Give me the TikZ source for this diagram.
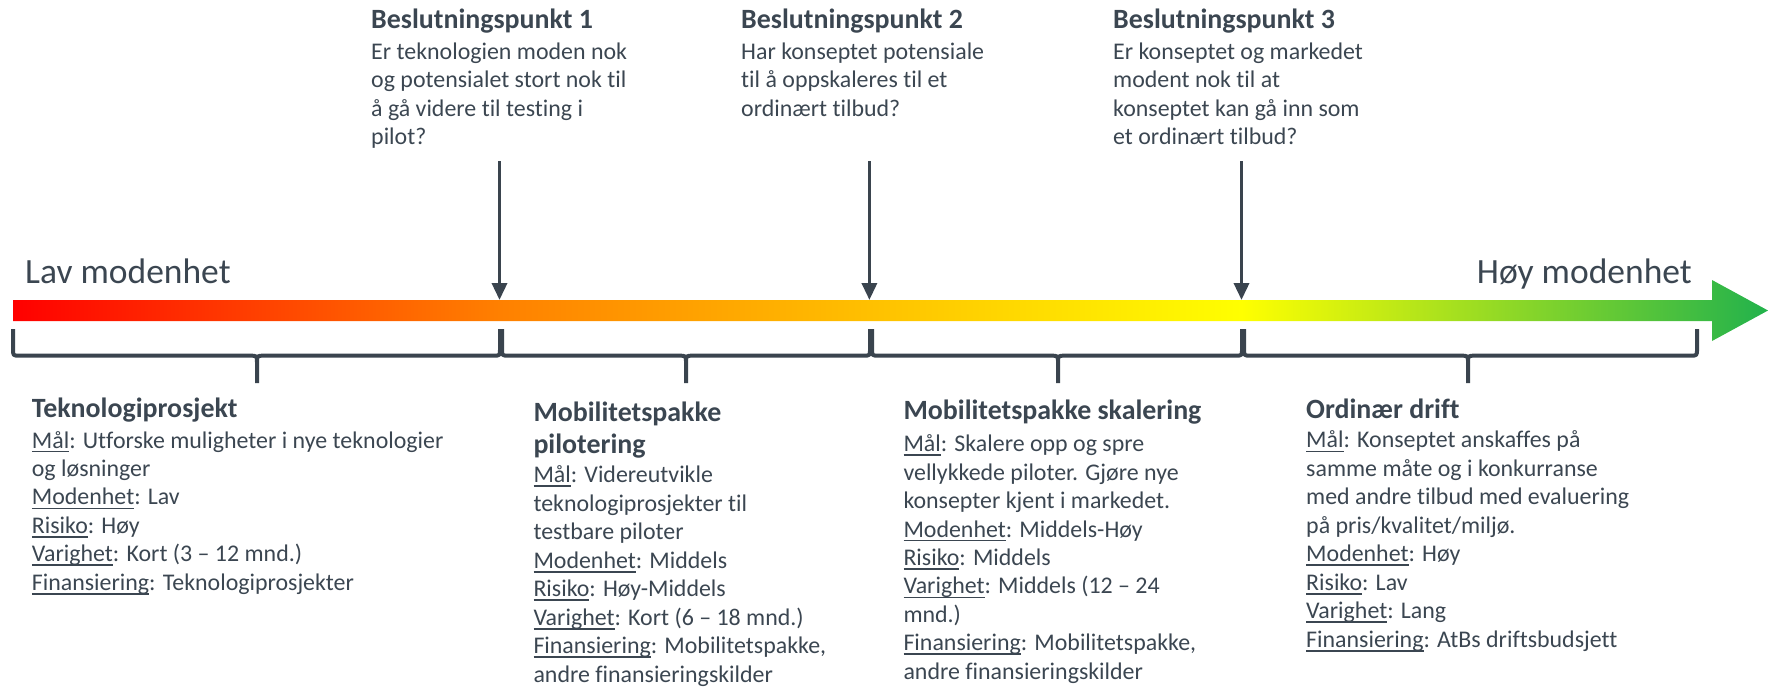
\documentclass[tikz,border=0pt]{standalone}
\usepackage{fontspec}
\setmainfont{Carlito}[Ligatures={TeX,NoCommon}]
\usepackage{xcolor}
\usetikzlibrary{arrows.meta}

\definecolor{tekstgraa}{RGB}{59,70,81}
\definecolor{linjegraa}{RGB}{58,68,78}
\definecolor{oransje}{RGB}{255,128,0}
\definecolor{gull}{RGB}{255,192,0}
\definecolor{gul}{RGB}{255,255,0}
\definecolor{groenn}{RGB}{34,178,76}

\pgfdeclarehorizontalshading{modenhet}{100bp}{color(0bp)=(red); color(25bp)=(red);
  color(38.86bp)=(oransje); color(49.39bp)=(gull); color(60bp)=(gul);
  color(75bp)=(groenn); color(100bp)=(groenn)}

\newcommand{\felt}[1]{\setbox0=\hbox{#1}\rlap{\vrule height -2.6pt depth 4.4pt width \wd0}#1}

% nodes are placed by the baseline of their last line
\tikzset{
  overskrift/.style={font=\fontsize{27.9}{31.3}\selectfont\bfseries, text=tekstgraa, anchor=base west, inner sep=0pt, align=left},
  tekst/.style={font=\fontsize{23.9}{28.45}\selectfont, text=tekstgraa, anchor=base west, inner sep=0pt, align=left},
  skala/.style={font=\fontsize{35.5}{40}\selectfont, text=tekstgraa, inner sep=0pt},
  beslutning/.style={linjegraa, line width=3.5pt, -{Triangle[width=15pt,length=17pt]}},
  klamme/.style={linjegraa, line width=4pt, line join=round}
}

\begin{document}
\begin{tikzpicture}[x=1pt,y=-1pt]
    \useasboundingbox (0,0) rectangle (1768,688);

    % =====================
    % Maturity axis
    % =====================
    \shade[shading=modenhet] (13,300) -- (1712,300) -- (1712,280) -- (1768,310.5)
        -- (1712,341) -- (1712,321) -- (13,321) -- cycle;
    \node[skala, anchor=base west] (lav) at (25,283.3) {Lav modenhet};
    \node[skala, anchor=base east] (hoy) at (1692,283.3) {Høy modenhet};

    % =====================
    % Decision points
    % =====================
    \node[overskrift] (bp1) at (371,28) {Beslutningspunkt 1};
    \node[tekst] (sp1) at (371,144.5) {Er teknologien moden nok\\og potensialet stort nok til\\å gå videre til testing i\\pilot?};
    \node[overskrift] (bp2) at (741,28) {Beslutningspunkt 2};
    \node[tekst] (sp2) at (741,116) {Har konseptet potensiale\\til å oppskaleres til et\\ordinært tilbud?};
    \node[overskrift] (bp3) at (1113,28) {Beslutningspunkt 3};
    \node[tekst] (sp3) at (1113,144.5) {Er konseptet og markedet\\modent nok til at\\konseptet kan gå inn som\\et ordinært tilbud?};

    \foreach \n/\x in {1/499.5, 2/869.4, 3/1241.5} {
        \coordinate (start\n) at (\x,161);
        \coordinate (pkt\n) at (\x,300);
        \draw[beslutning] (start\n) -- (pkt\n);
    }

    % =====================
    % Phases (braces)
    % =====================
    \foreach \a/\m/\b in {13/257/500, 502/686/870, 872/1058/1242, 1244/1468/1697} {
        \draw[klamme] (\a,329) -- (\a,348.7) .. controls (\a,355.7) .. ({\a+7},355.7)
            -- ({\m-7},355.7) .. controls (\m,355.7) .. (\m,362.7) -- (\m,383)
            (\m,362.7) .. controls (\m,355.7) .. ({\m+7},355.7)
            -- ({\b-7},355.7) .. controls (\b,355.7) .. (\b,348.7) -- (\b,329);
    }

    \node[overskrift] (fase1) at (31.7,417.3) {Teknologiprosjekt};
    \node[tekst] (info1) at (31.7,590.3) {\felt{Mål}: Utforske muligheter i nye teknologier\\og løsninger\\\felt{Modenhet}: Lav\\\felt{Risiko}: Høy\\\felt{Varighet}: Kort (3 – 12 mnd.)\\\felt{Finansiering}: Teknologiprosjekter};

    \node[overskrift] (fase2) at (533.3,453) {Mobilitetspakke\\pilotering};
    \node[tekst] (info2) at (533.3,682) {\felt{Mål}: Videreutvikle\\teknologiprosjekter til\\testbare piloter\\\felt{Modenhet}: Middels\\\felt{Risiko}: Høy-Middels\\\felt{Varighet}: Kort (6 – 18 mnd.)\\\felt{Finansiering}: Mobilitetspakke,\\andre finansieringskilder};

    \node[overskrift] (fase3) at (903.3,419.3) {Mobilitetspakke skalering};
    \node[tekst] (info3) at (903.3,679.3) {\felt{Mål}: Skalere opp og spre\\vellykkede piloter. Gjøre nye\\konsepter kjent i markedet.\\\felt{Modenhet}: Middels-Høy\\\felt{Risiko}: Middels\\\felt{Varighet}: Middels (12 – 24\\mnd.)\\\felt{Finansiering}: Mobilitetspakke,\\andre finansieringskilder};

    \node[overskrift] (fase4) at (1306,418.3) {Ordinær drift};
    \node[tekst] (info4) at (1306,647.1) {\felt{Mål}: Konseptet anskaffes på\\samme måte og i konkurranse\\med andre tilbud med evaluering\\på pris/kvalitet/miljø.\\\felt{Modenhet}: Høy\\\felt{Risiko}: Lav\\\felt{Varighet}: Lang\\\felt{Finansiering}: AtBs driftsbudsjett};
\end{tikzpicture}
\end{document}
